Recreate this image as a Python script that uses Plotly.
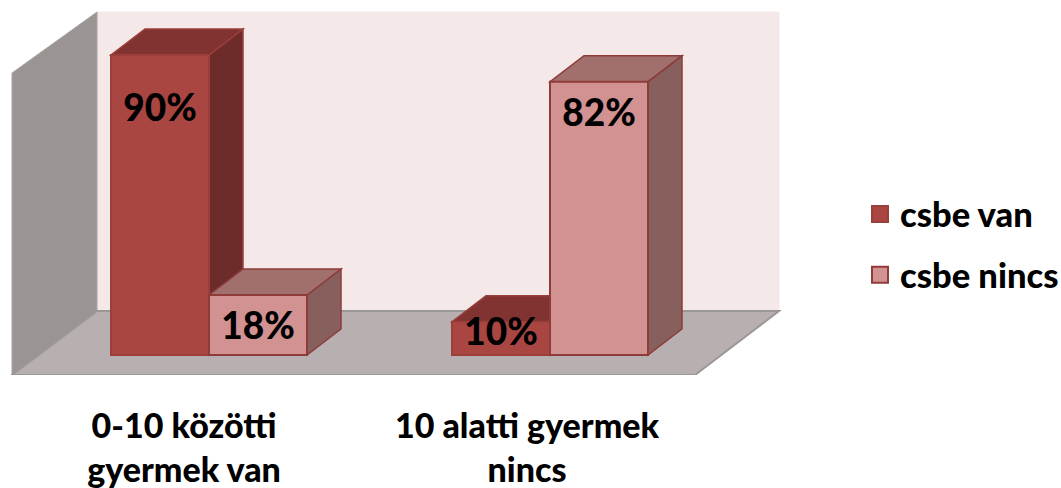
import plotly.graph_objects as go

categories = ["0-10 közötti<br>gyermek van", "10 alatti gyermek<br>nincs"]
series_names = ["csbe van", "csbe nincs"]
van_values = [90, 10]
nincs_values = [18, 82]
label_shift = {"csbe van": [17, 4.1], "csbe nincs": [10.5, 10.6]}

W, H = 1061, 488
PLOT_B = 375
FONT = "Lato"
PX_PER_X = 341.0       # pixels between the two groups
PX_PER_Y = 10 / 3.0    # pixels per percentage point
X0_PX = 209.0          # pixel of group 0 centre
Y0_PX = 355.0          # pixel of value 0

def xu(px):
    return (px - X0_PX) / PX_PER_X

def yu(px):
    return (Y0_PX - px) / PX_PER_Y

BAR_W = 98 / PX_PER_X
DX = 34 / PX_PER_X
DY = 26 / PX_PER_Y
COLORS = {
    "csbe van": dict(front="#A94642", top="#813331", side="#6D2B29", line="#9A3F3C"),
    "csbe nincs": dict(front="#D29292", top="#A06F6E", side="#875F5D", line="#8E3B39"),
}

def poly(points, fill, line=None, width=1):
    path = "M" + " L".join(f"{x:.5f},{y:.5f}" for x, y in points) + " Z"
    return dict(type="path", path=path, xref="x", yref="y", layer="below",
                fillcolor=fill, line=dict(color=line or fill, width=width))

shapes = [
    # back wall
    poly([(xu(97), yu(311)), (xu(97), yu(12)), (xu(779), yu(12)), (xu(779), yu(311))], "#F4E8E8"),
    # side wall
    poly([(xu(12), yu(375)), (xu(12), yu(73)), (xu(97), yu(12)), (xu(97), yu(311))], "#9A9493", "#A8A3A2"),
    # floor
    poly([(xu(12), yu(375)), (xu(695), yu(375)), (xu(779), yu(311)), (xu(97), yu(311))], "#B8B0B0", "#9A9797", 2),
]

# depth faces of each bar, from the values (back to front order)
offsets = {"csbe van": -BAR_W, "csbe nincs": 0.0}
all_series = [("csbe van", van_values), ("csbe nincs", nincs_values)]
for g in range(len(categories)):
    for name, vals in all_series:
        c = COLORS[name]
        x1 = g + offsets[name]
        x2 = x1 + BAR_W
        v = vals[g]
        shapes.append(poly([(x2, 0), (x2, v), (x2 + DX, v + DY), (x2 + DX, DY)], c["side"], c["line"], 1.5))
        shapes.append(poly([(x1, v), (x2, v), (x2 + DX, v + DY), (x1 + DX, v + DY)], c["top"], c["line"], 1.5))

fig = go.Figure()
groups = list(range(len(categories)))
for name, vals in all_series:
    c = COLORS[name]
    fig.add_trace(go.Bar(
        x=[g + offsets[name] + BAR_W / 2 for g in groups], y=vals, width=BAR_W,
        marker=dict(color=c["front"], line=dict(color=c["line"], width=2)),
        showlegend=False, hoverinfo="skip",
    ))
for name, vals in all_series:
    fig.add_trace(go.Scatter(
        x=[g + offsets[name] + BAR_W / 2 for g in groups],
        y=[v - s for v, s in zip(vals, label_shift[name])],
        mode="text", text=[f"{v}%" for v in vals],
        textposition="middle center",
        textfont=dict(family=FONT, size=37, color="black", weight=900),
        showlegend=False, hoverinfo="skip",
    ))
for name, _ in all_series:
    c = COLORS[name]
    fig.add_trace(go.Scatter(
        x=[None], y=[None], mode="markers", name=name, legendgroup=name,
        marker=dict(symbol="square", size=16, color=c["front"], line=dict(color=c["line"], width=2)),
    ))

fig.update_layout(
    width=W, height=H,
    margin=dict(l=0, r=0, t=0, b=H - PLOT_B, autoexpand=False),
    paper_bgcolor="white", plot_bgcolor="rgba(0,0,0,0)",
    shapes=shapes, barmode="overlay",
    xaxis=dict(
        range=[xu(0), xu(W)], showgrid=False, zeroline=False, showline=False,
        tickmode="array", tickvals=[xu(184), xu(527)], ticktext=categories,
        ticks="outside", ticklen=21, tickcolor="rgba(0,0,0,0)",
        tickfont=dict(family=FONT, size=34, color="black", weight=900),
    ),
    yaxis=dict(range=[yu(PLOT_B), yu(0)], visible=False),
    legend=dict(
        x=860 / W, y=1 - 185 / H, xanchor="left", yanchor="top",
        xref="paper", yref="container",
        bgcolor="rgba(0,0,0,0)", traceorder="grouped", tracegroupgap=13,
        font=dict(family=FONT, size=34.5, color="black", weight=900),
        itemsizing="trace", itemclick=False, itemdoubleclick=False,
    ),
)
fig.write_html("out.html", config=dict(displayModeBar=False),
               post_script="document.body.style.margin='0';")
